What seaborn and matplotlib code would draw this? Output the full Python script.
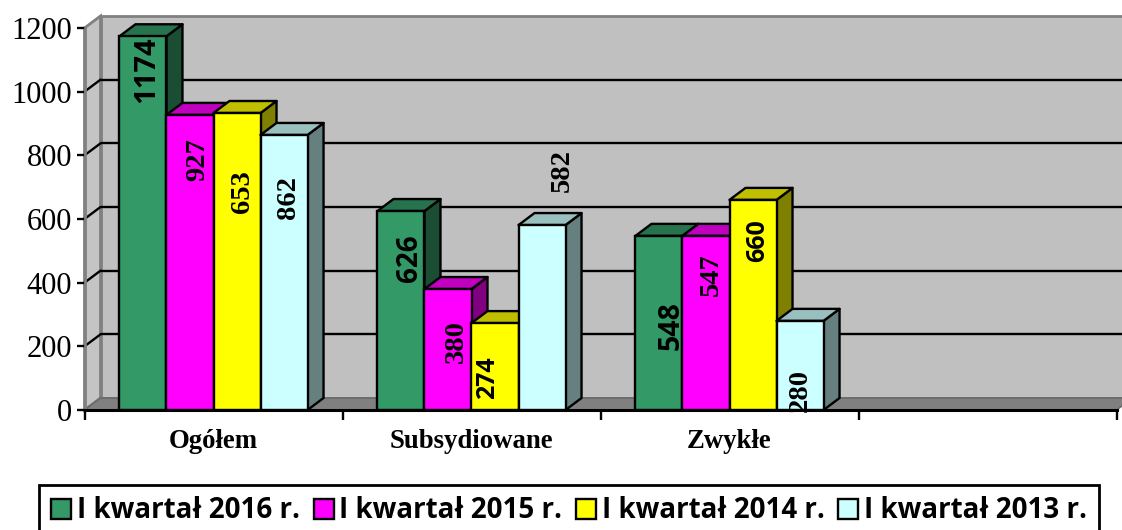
import matplotlib
matplotlib.use("Agg")
import matplotlib.pyplot as plt
import seaborn as sns
import pandas as pd
from matplotlib.patches import Polygon
from matplotlib.transforms import ScaledTranslation
from matplotlib.colors import to_rgb

categories = ["Ogółem", "Subsydiowane", "Zwykłe"]
series_names = ["I kwartał 2016 r.", "I kwartał 2015 r.", "I kwartał 2014 r.", "I kwartał 2013 r."]
values_2016 = [1174, 625, 547]
values_2015 = [927, 380, 547]
values_2014 = [933, 273, 660]
values_2013 = [864, 581, 280]
labels_2016 = ["1174", "626", "548"]
labels_2015 = ["927", "380", "547"]
labels_2014 = ["653", "274", "660"]
labels_2013 = ["862", "582", "280"]
y_ticks = [0, 200, 400, 600, 800, 1000, 1200]

colors = ["#339966", "#FF00FF", "#FFFF00", "#CCFFFF"]
SERIF = "Liberation Serif"
SANS = "Open Sans"

W, H, DPI = 1122, 530, 100
DX, DY = 16, 12  # 3-D depth, pixels
LW = 1.7

sns.set_theme(style="white")
fig = plt.figure(figsize=(W / DPI, H / DPI), dpi=DPI, facecolor="white")
ax = fig.add_axes([84.5 / W, (H - 410) / H, 1032 / W, 382 / H])

df = pd.DataFrame({
    "cat": categories * 4,
    "series": [s for s in series_names for _ in categories],
    "value": values_2016 + values_2015 + values_2014 + values_2013,
})
sns.barplot(data=df, x="cat", y="value", hue="series", hue_order=series_names,
            palette=colors, order=categories, width=0.729, gap=0, saturation=1,
            edgecolor="black", linewidth=LW, ax=ax, legend=False, zorder=5)
ax.set_xlim(-0.5, 3.5)
ax.set_ylim(0, 1200)
ax.set_xlabel("")
ax.set_ylabel("")
ax.patch.set_visible(False)

# depth expressed in data units
ux = 1032 / 4
uy = 382 / 1200
ddx, ddy = DX / ux, DY / uy
depth = ax.transData + ScaledTranslation(DX / DPI, DY / DPI, fig.dpi_scale_trans)

# walls and floor
x0, x1 = -0.5, 3.5
top = y_ticks[-1]
ax.add_patch(Polygon([(x0 + ddx, ddy), (x1 + ddx, ddy), (x1 + ddx, top + ddy), (x0 + ddx, top + ddy)],
                     fc="#C0C0C0", ec="#808080", lw=2, clip_on=False, zorder=0))
ax.add_patch(Polygon([(x0, 0), (x0 + ddx, ddy), (x0 + ddx, top + ddy), (x0, top)],
                     fc="#C4C4C4", ec="#808080", lw=2, clip_on=False, zorder=0.5))
ax.add_patch(Polygon([(x0, 0), (x1, 0), (x1 + ddx, ddy), (x0 + ddx, ddy)],
                     fc="#808080", ec="#6A6A6A", lw=1.2, clip_on=False, zorder=1))
# grid on back wall and side wall
for v in y_ticks[1:-1]:
    ax.plot([x0, x1], [v, v], color="black", lw=LW, transform=depth, clip_on=False, zorder=2)
    ax.plot([x0, x0 + ddx], [v, v + ddy], color="black", lw=LW, clip_on=False, zorder=2)

# bar sides and tops, taken from the bars seaborn drew
def shade(c, f):
    return tuple(v * f for v in to_rgb(c))

bars = [p for p in ax.patches if hasattr(p, "get_width") and not isinstance(p, Polygon)]
bars = sorted(bars, key=lambda p: p.get_x())
for i, b in enumerate(bars):
    x, w, h = b.get_x(), b.get_width(), b.get_height()
    z = 5 + i
    c = b.get_facecolor()
    b.set_zorder(z + 0.5)
    b.set_clip_on(False)
    ax.add_patch(Polygon([(x + w, 0), (x + w + ddx, ddy), (x + w + ddx, h + ddy), (x + w, h)],
                         fc=shade(c, 0.5), ec="black", lw=LW, clip_on=False, zorder=z, joinstyle="round"))
    ax.add_patch(Polygon([(x, h), (x + w, h), (x + w + ddx, h + ddy), (x + ddx, h + ddy)],
                         fc=shade(c, 0.75), ec="black", lw=LW, clip_on=False, zorder=z, joinstyle="round"))

# axes furniture
for s in ("top", "right"):
    ax.spines[s].set_visible(False)
ax.spines["left"].set_color("#808080")
ax.spines["left"].set_linewidth(2)
ax.spines["bottom"].set_color("black")
ax.spines["bottom"].set_linewidth(2.2)
ax.spines["bottom"].set_zorder(40)
ax.set_yticks(y_ticks)
ax.set_yticklabels([str(v) for v in y_ticks], fontfamily=SERIF, fontsize=22, color="black")
ax.tick_params(axis="y", left=True, length=6, width=LW, color="black", pad=3)
ax.set_xticks([-0.5, 0.5, 1.5, 2.5, 3.5])
ax.set_xticklabels([])
ax.tick_params(axis="x", which="major", bottom=True, length=7, width=LW, color="black")
ax.set_xticks([0, 1, 2], minor=True)
ax.set_xticklabels(categories, minor=True, fontfamily=SERIF, fontweight="bold", fontsize=19.3, color="black")
ax.tick_params(axis="x", which="minor", bottom=False, length=0, pad=14)

# rotated value labels (reference's own pixel centres)
all_labels = labels_2016 + labels_2015 + labels_2014 + labels_2013
label_px = [(147, 70), (409, 258), (671, 326),
            (198, 160), (456, 342), (711, 275),
            (242, 192), (488, 378), (758, 241),
            (288, 198), (562, 171), (800, 390)]
label_fonts = [(SANS, 21), (SANS, 20), (SANS, 20.5),
               (SERIF, 20.5), (SERIF, 20.5), (SERIF, 20.5),
               (SERIF, 20.5), (SANS, 18), (SANS, 18),
               (SERIF, 20.5), (SERIF, 20.5), (SERIF, 20.5)]
for t, (px, py), (fam, fs) in zip(all_labels, label_px, label_fonts):
    fig.text(px / W, 1 - py / H, t, rotation=90, ha="center", va="center",
             family=fam, fontweight="bold", fontsize=fs, color="black", zorder=50)

# legend
handles = [plt.Rectangle((0, 0), 1, 1, fc=c, ec="black", lw=LW) for c in colors]
leg = fig.legend(handles, series_names, ncols=4, loc="center",
                 bbox_to_anchor=(569 / W, 1 - 511 / H),
                 prop={"family": SANS, "weight": "bold", "size": 20},
                 frameon=True, fancybox=False, edgecolor="black", framealpha=1,
                 handlelength=0.72, handleheight=0.72, handletextpad=0.2,
                 columnspacing=0.5, borderpad=0.42, borderaxespad=0)
leg.get_frame().set_linewidth(2)
for txt in leg.get_texts():
    txt.set_color("black")

fig.savefig("out.png", dpi=DPI, facecolor="white")
